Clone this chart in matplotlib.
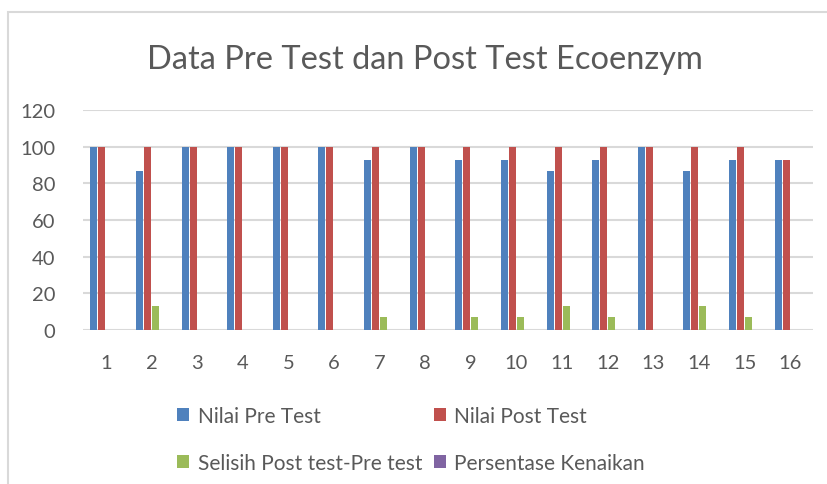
import numpy as np
import matplotlib
matplotlib.use("Agg")
import matplotlib.pyplot as plt
from matplotlib.patches import Rectangle

# Data
kategori = [str(i) for i in range(1, 17)]
pre_test = [100, 87, 100, 100, 100, 100, 93, 100, 93, 93, 87, 93, 100, 87, 93, 93]
post_test = [100, 100, 100, 100, 100, 100, 100, 100, 100, 100, 100, 100, 100, 100, 100, 93]
selisih = [0, 13, 0, 0, 0, 0, 7, 0, 7, 7, 13, 7, 0, 13, 7, 0]
persentase = [0] * 16

seri = [
    ("Nilai Pre Test", pre_test, "#4F81BD"),
    ("Nilai Post Test", post_test, "#C0504D"),
    ("Selisih Post test-Pre test", selisih, "#9BBB59"),
    ("Persentase Kenaikan", persentase, "#8064A2"),
]

plt.rcParams['font.family'] = ['Lato', 'DejaVu Sans']
teks = "#595959"

fig = plt.figure(figsize=(8.28, 4.85), dpi=100)
ax = fig.add_axes([83/828, 1 - 331/485, 730/828, 220/485])

x = np.arange(len(kategori))
lebar = 0.155
jarak = 0.175
bars = []
for i, (nama, nilai, warna) in enumerate(seri):
    b = ax.bar(x + (i - 1.5) * jarak, nilai, lebar, color=warna, label=nama, zorder=3)
    bars.append(b)

ax.set_xlim(-0.5, len(kategori) - 0.5)
ax.set_ylim(0, 120)
ax.set_yticks(range(0, 121, 20))
ax.set_xticks(x)
ax.set_xticklabels(kategori)
ax.tick_params(axis='both', length=0, labelsize=14.5, colors=teks)
ax.tick_params(axis='x', pad=17)
ax.tick_params(axis='y', pad=20)
ax.grid(axis='y', color='#D9D9D9', linewidth=1.5, zorder=0)
for s in ax.spines.values():
    s.set_visible(False)

fig.text(425/828, 1 - 60/485, "Data Pre Test dan Post Test Ecoenzym",
         ha='center', va='center', fontsize=23.5, color=teks)

# urutan kolom: baris 1 = Pre, Post; baris 2 = Selisih, Persentase
h = [bars[0], bars[2], bars[1], bars[3]]
lab = [seri[0][0], seri[2][0], seri[1][0], seri[3][0]]
leg = fig.legend(h, lab, loc='upper left', bbox_to_anchor=(158/828, 1 - 388/485),
                 ncol=2, frameon=False, fontsize=15, labelcolor=teks,
                 handlelength=0.6, handleheight=0.6, handletextpad=0.4,
                 columnspacing=0.55, labelspacing=1.3)

# bingkai grafik
fig.patches.append(Rectangle((8/828, -0.1), 1.0, 1 - 13/485 + 0.1,
                             transform=fig.transFigure, fill=False,
                             edgecolor='#D9D9D9', linewidth=1.5))

fig.savefig("out.png", dpi=100)
